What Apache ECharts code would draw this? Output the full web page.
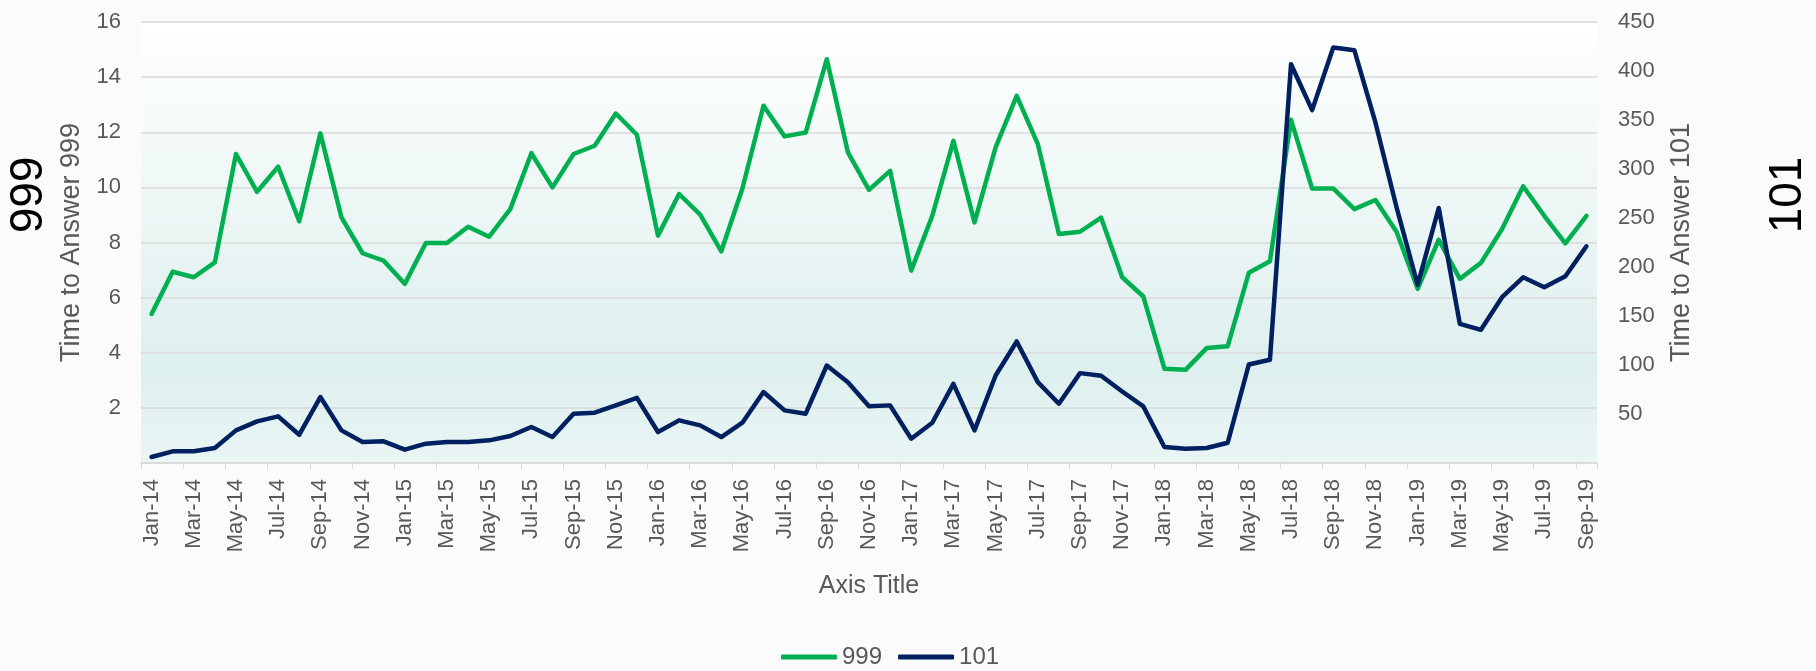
<!DOCTYPE html>
<html>
<head>
<meta charset="utf-8">
<script src="https://cdn.jsdelivr.net/npm/echarts@6/dist/echarts.min.js"></script>
<style>
html,body{margin:0;padding:0;background:#fbfbfb;}
#c{width:1816px;height:671px;}
</style>
</head>
<body>
<div id="c"></div>
<script>
const categories = [
 'Jan-14','Feb-14','Mar-14','Apr-14','May-14','Jun-14','Jul-14','Aug-14','Sep-14','Oct-14','Nov-14','Dec-14',
 'Jan-15','Feb-15','Mar-15','Apr-15','May-15','Jun-15','Jul-15','Aug-15','Sep-15','Oct-15','Nov-15','Dec-15',
 'Jan-16','Feb-16','Mar-16','Apr-16','May-16','Jun-16','Jul-16','Aug-16','Sep-16','Oct-16','Nov-16','Dec-16',
 'Jan-17','Feb-17','Mar-17','Apr-17','May-17','Jun-17','Jul-17','Aug-17','Sep-17','Oct-17','Nov-17','Dec-17',
 'Jan-18','Feb-18','Mar-18','Apr-18','May-18','Jun-18','Jul-18','Aug-18','Sep-18','Oct-18','Nov-18','Dec-18',
 'Jan-19','Feb-19','Mar-19','Apr-19','May-19','Jun-19','Jul-19','Aug-19','Sep-19'
];
const series999 = [
 5.41,6.94,6.74,7.28,11.21,9.84,10.75,8.77,11.96,8.91,7.61,7.34,
 6.50,7.98,7.98,8.57,8.21,9.21,11.24,10.00,11.21,11.51,12.68,11.91,
 8.25,9.76,9.01,7.68,9.96,12.96,11.85,11.99,14.65,11.27,9.91,10.60,
 6.98,8.97,11.69,8.73,11.45,13.32,11.57,8.31,8.39,8.90,6.74,6.04,
 3.42,3.38,4.17,4.24,6.90,7.32,12.45,9.96,9.96,9.21,9.54,8.39,
 6.32,8.10,6.68,7.26,8.49,10.04,8.97,7.97,8.97
];
const series101 = [
 6.1,11.9,11.9,15.3,33.3,42.5,47.6,28.9,67.3,33.3,21.4,22.1,
 13.6,19.7,21.4,21.4,23.1,27.5,36.7,26.5,50.3,51.3,58.8,66.5,
 31.6,43.5,38.4,26.5,41.1,72.4,53.7,50.3,99.5,82.5,58.0,58.8,
 24.8,41.1,80.8,33.3,89.3,124.0,82.5,60.5,91.7,89.0,73.0,57.7,
 16.3,14.6,15.3,20.7,100.5,105.3,406.9,360.1,423.9,421.2,347.5,260.9,
 181.7,260.2,142.0,135.9,169.2,189.5,179.3,190.6,221.1
];
const leftTicks = {min:0, max:16, interval:2};
const rightTicks = {min:0, max:450, interval:50};

const FONT = '"Liberation Sans", Arial, sans-serif';
const GREY = '#595959';
const chart = echarts.init(document.getElementById('c'), null, {renderer:'canvas'});
chart.setOption({
  backgroundColor:'#fbfbfb',
  animation:false,
  textStyle:{fontFamily:FONT},
  grid:{left:141, right:219, top:22, bottom:208, show:true, borderWidth:0,
    backgroundColor:{type:'linear',x:0,y:0,x2:0,y2:1,colorStops:[
      {offset:0,color:'#ffffff'},{offset:0.78,color:'#ddefee'},{offset:1,color:'#eaf5f5'}]}},
  legend:{left:776, top:640, itemWidth:56, itemHeight:5, itemGap:16, icon:'roundRect',
    textStyle:{fontSize:24, color:GREY, fontFamily:FONT},
    data:['999','101']},
  graphic:[
    {type:'text', x:29, y:195, rotation:Math.PI/2,
      style:{text:'999', fontSize:46, fill:'#000', fontFamily:FONT, align:'center', verticalAlign:'middle'}},
    {type:'text', x:1788, y:195, rotation:Math.PI/2,
      style:{text:'101', fontSize:46, fill:'#000', fontFamily:FONT, align:'center', verticalAlign:'middle'}}
  ],
  xAxis:{type:'category', data:categories, boundaryGap:true,
    name:'Axis Title', nameLocation:'middle', nameGap:111,
    nameTextStyle:{fontSize:25, color:GREY, fontFamily:FONT},
    axisLine:{lineStyle:{color:'#d9d9d9', width:1.5}},
    axisTick:{show:true, interval:1, length:6, lineStyle:{color:'#d9d9d9'}},
    axisLabel:{interval:1, rotate:90, margin:16, fontSize:22, color:GREY, fontFamily:FONT},
    splitLine:{show:false}},
  yAxis:[
    {type:'value', min:leftTicks.min, max:leftTicks.max, interval:leftTicks.interval, position:'left',
      name:'Time to Answer 999', nameLocation:'middle', nameGap:56,
      nameTextStyle:{fontSize:27, color:GREY, fontFamily:FONT},
      axisLine:{show:false}, axisTick:{show:false},
      axisLabel:{margin:20, fontSize:22, color:GREY, fontFamily:FONT, formatter:v=>v===0?'':String(v)},
      splitLine:{show:true, lineStyle:{color:'#d9d9d9', width:1.5}}},
    {type:'value', min:rightTicks.min, max:rightTicks.max, interval:rightTicks.interval, position:'right',
      name:'Time to Answer 101', nameLocation:'middle', nameGap:71,
      nameTextStyle:{fontSize:27, color:GREY, fontFamily:FONT},
      axisLine:{show:false}, axisTick:{show:false},
      axisLabel:{margin:21, fontSize:22, color:GREY, fontFamily:FONT, formatter:v=>v===0?'':String(v)},
      splitLine:{show:false}}
  ],
  series:[
    {name:'999', type:'line', yAxisIndex:0, data:series999, showSymbol:false, symbol:'none',
      lineStyle:{color:'#00b050', width:4.5, join:'round', cap:'round'}, itemStyle:{color:'#00b050'}},
    {name:'101', type:'line', yAxisIndex:1, data:series101, showSymbol:false, symbol:'none',
      lineStyle:{color:'#002060', width:4.5, join:'round', cap:'round'}, itemStyle:{color:'#002060'}}
  ]
});
</script>
</body>
</html>
